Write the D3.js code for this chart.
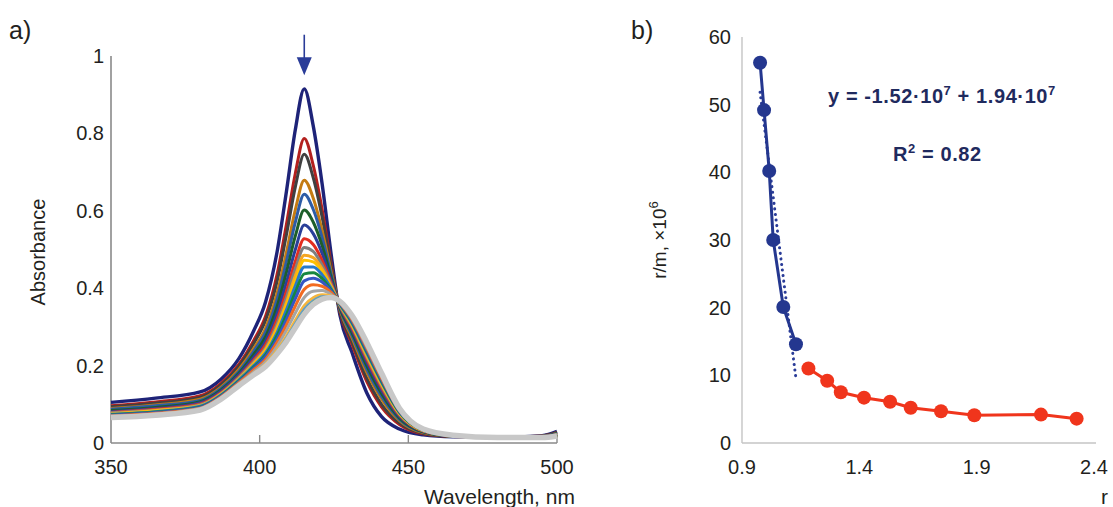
<!DOCTYPE html>
<html>
<head>
<meta charset="utf-8">
<script src="https://cdn.jsdelivr.net/npm/d3@7"></script>
<style>
  html, body { margin: 0; padding: 0; background: #fff; }
  svg { display: block; }
  text { font-family: "Liberation Sans", Arial, sans-serif; fill: #231f20; }
</style>
</head>
<body>
<svg id="fig" width="1113" height="507"></svg>
<script>
// ---- Panel a: absorption spectra during titration ----
const wavelengths = [350, 365, 380, 387, 393, 398, 402, 406, 409, 412, 415, 418, 421, 424, 427, 431, 436, 441, 447, 455, 465, 480, 495, 500];

const abs01 = [0.105,0.116,0.132,0.165,0.218,0.290,0.365,0.500,0.650,0.810,0.915,0.820,0.670,0.490,0.330,0.235,0.130,0.068,0.036,0.021,0.016,0.015,0.019,0.030];
const abs02 = [0.096,0.106,0.122,0.154,0.203,0.265,0.328,0.441,0.565,0.697,0.787,0.718,0.604,0.465,0.338,0.256,0.159,0.093,0.048,0.024,0.017,0.015,0.018,0.027];
const abs03 = [0.094,0.103,0.118,0.150,0.198,0.257,0.317,0.422,0.538,0.662,0.746,0.686,0.584,0.457,0.340,0.263,0.168,0.100,0.052,0.025,0.017,0.015,0.018,0.027];
const abs04 = [0.089,0.098,0.113,0.144,0.190,0.244,0.297,0.391,0.493,0.603,0.679,0.633,0.549,0.444,0.345,0.273,0.183,0.113,0.058,0.027,0.018,0.015,0.017,0.025];
const abs05 = [0.087,0.096,0.110,0.141,0.185,0.237,0.287,0.375,0.469,0.571,0.643,0.604,0.531,0.437,0.347,0.279,0.191,0.120,0.061,0.028,0.018,0.015,0.017,0.024];
const abs06 = [0.084,0.092,0.107,0.137,0.180,0.229,0.275,0.356,0.441,0.535,0.602,0.571,0.510,0.429,0.349,0.286,0.200,0.128,0.065,0.029,0.018,0.015,0.016,0.024];
const abs07 = [0.081,0.089,0.104,0.134,0.176,0.221,0.264,0.338,0.415,0.500,0.563,0.541,0.490,0.421,0.352,0.293,0.209,0.136,0.069,0.030,0.018,0.014,0.016,0.023];
const abs08 = [0.079,0.087,0.101,0.130,0.171,0.214,0.254,0.322,0.392,0.470,0.528,0.513,0.472,0.414,0.354,0.298,0.217,0.143,0.072,0.031,0.019,0.014,0.016,0.022];
const abs09 = [0.078,0.085,0.099,0.128,0.169,0.210,0.247,0.311,0.377,0.450,0.505,0.495,0.460,0.410,0.355,0.302,0.222,0.147,0.074,0.032,0.019,0.014,0.016,0.022];
const abs10 = [0.076,0.084,0.097,0.127,0.166,0.206,0.242,0.302,0.363,0.432,0.485,0.479,0.450,0.406,0.357,0.305,0.226,0.151,0.076,0.032,0.019,0.014,0.015,0.021];
const abs11 = [0.075,0.083,0.096,0.125,0.165,0.203,0.238,0.296,0.355,0.420,0.472,0.468,0.443,0.403,0.357,0.307,0.229,0.153,0.077,0.032,0.019,0.014,0.015,0.021];
const abs12 = [0.074,0.081,0.095,0.124,0.163,0.200,0.233,0.288,0.344,0.406,0.455,0.455,0.435,0.400,0.358,0.310,0.233,0.157,0.079,0.033,0.019,0.014,0.015,0.021];
const abs13 = [0.073,0.080,0.093,0.122,0.160,0.196,0.228,0.280,0.331,0.389,0.437,0.440,0.425,0.396,0.360,0.313,0.237,0.160,0.080,0.033,0.019,0.014,0.015,0.020];
const abs14 = [0.072,0.079,0.092,0.121,0.158,0.193,0.223,0.271,0.319,0.373,0.419,0.426,0.416,0.393,0.361,0.316,0.241,0.164,0.082,0.034,0.019,0.014,0.015,0.020];
const abs15 = [0.070,0.077,0.090,0.119,0.156,0.189,0.216,0.262,0.305,0.354,0.397,0.409,0.405,0.389,0.362,0.320,0.246,0.168,0.084,0.034,0.020,0.014,0.015,0.019];
const abs16 = [0.069,0.075,0.089,0.117,0.153,0.184,0.210,0.252,0.291,0.336,0.376,0.392,0.394,0.384,0.363,0.323,0.250,0.172,0.086,0.035,0.020,0.014,0.014,0.019];
const abs17 = [0.067,0.074,0.087,0.115,0.151,0.180,0.204,0.242,0.276,0.317,0.355,0.375,0.383,0.380,0.365,0.327,0.255,0.176,0.088,0.035,0.020,0.014,0.014,0.018];
const abs18 = [0.067,0.073,0.086,0.114,0.149,0.178,0.201,0.237,0.270,0.308,0.345,0.367,0.378,0.378,0.365,0.328,0.257,0.178,0.089,0.036,0.020,0.014,0.014,0.018];
const abs19 = [0.066,0.072,0.085,0.114,0.149,0.177,0.200,0.235,0.266,0.303,0.339,0.363,0.375,0.377,0.366,0.329,0.259,0.179,0.089,0.036,0.020,0.014,0.014,0.018];
const abs20 = [0.066,0.072,0.085,0.113,0.148,0.176,0.198,0.232,0.262,0.298,0.333,0.358,0.372,0.376,0.366,0.330,0.260,0.180,0.090,0.036,0.020,0.014,0.014,0.018];

const spectra = [abs01, abs02, abs03, abs04, abs05, abs06, abs07, abs08, abs09, abs10,
                 abs11, abs12, abs13, abs14, abs15, abs16, abs17, abs18, abs19, abs20];
const spectrumColors = ["#1e2378", "#b3201e", "#404040", "#c47b12", "#2d5ca6", "#1d5e2a", "#2a3f99",
                        "#e32d1f", "#7f7f7f", "#f5a623", "#ffc000", "#2879c9", "#17873f", "#3556c4",
                        "#f26b21", "#a5a5a5", "#f4b63f", "#5b9bd5", "#70ad47", "#c8c8c8"];

const absTicks = [0, 0.2, 0.4, 0.6, 0.8, 1];
const absTickLabels = ["0", "0.2", "0.4", "0.6", "0.8", "1"];
const wlTicks = [350, 400, 450, 500];
const arrowWavelength = 415;

// ---- Panel b: Scatchard plot ----
const rBlue = [0.977, 0.994, 1.016, 1.033, 1.076, 1.130];
const rmBlue = [56.2, 49.2, 40.2, 30.0, 20.1, 14.6];
const rRed = [1.183, 1.263, 1.321, 1.420, 1.531, 1.619, 1.748, 1.890, 2.174, 2.326];
const rmRed = [11.0, 9.2, 7.5, 6.7, 6.1, 5.2, 4.7, 4.1, 4.2, 3.6];
const rTicks = [0.9, 1.4, 1.9, 2.4];
const rmTicks = [0, 10, 20, 30, 40, 50, 60];

const svg = d3.select("#fig");
const labelSize = 20;

// ================= Panel a =================
const xA = d3.scaleLinear().domain([350, 500]).range([111, 557]);
const yA = d3.scaleLinear().domain([0, 1]).range([443, 56]);
const gA = svg.append("g");

gA.append("text").attr("x", 9).attr("y", 39).attr("font-size", 25).text("a)");

// axes
gA.append("line").attr("x1", xA(350)).attr("x2", xA(350)).attr("y1", yA(1)).attr("y2", yA(0))
  .attr("stroke", "#8a8a8a").attr("stroke-width", 1.6);
gA.append("line").attr("x1", xA(350)).attr("x2", xA(500)).attr("y1", yA(0)).attr("y2", yA(0))
  .attr("stroke", "#8a8a8a").attr("stroke-width", 1.6);
gA.selectAll(".xt").data(wlTicks.slice(1)).enter().append("line")
  .attr("x1", d => xA(d)).attr("x2", d => xA(d)).attr("y1", yA(0)).attr("y2", yA(0) - 8)
  .attr("stroke", "#8a8a8a").attr("stroke-width", 1.4);

gA.selectAll(".yl").data(absTicks).enter().append("text")
  .attr("x", 104).attr("y", d => yA(d)).attr("dy", "0.35em")
  .attr("text-anchor", "end").attr("font-size", labelSize).text((d, i) => absTickLabels[i]);
gA.selectAll(".xl").data(wlTicks).enter().append("text")
  .attr("x", d => xA(d)).attr("y", 474)
  .attr("text-anchor", "middle").attr("font-size", labelSize).text(d => d);

gA.append("text").attr("transform", "translate(45,252) rotate(-90)")
  .attr("text-anchor", "middle").attr("font-size", 20).text("Absorbance");
gA.append("text").attr("x", 424).attr("y", 504).attr("font-size", 21).text("Wavelength, nm");

// spectra
const specLine = d3.line()
  .x((d, i) => xA(wavelengths[i]))
  .y(d => yA(d))
  .curve(d3.curveMonotoneX);

gA.selectAll(".spec").data(spectra).enter().append("path")
  .attr("d", d => specLine(d))
  .attr("fill", "none")
  .attr("stroke", (d, i) => spectrumColors[i])
  .attr("stroke-width", (d, i) => i === spectra.length - 1 ? 5.5 : (i === 0 ? 3.4 : 3))
  .attr("stroke-linejoin", "round");

// arrow marking the decreasing Soret band
const ax = xA(arrowWavelength);
gA.append("line").attr("x1", ax).attr("x2", ax).attr("y1", yA(1.055)).attr("y2", yA(0.99))
  .attr("stroke", "#2a3c98").attr("stroke-width", 1.6);
gA.append("path")
  .attr("d", `M${ax - 7.5},${yA(0.997)} L${ax + 7.5},${yA(0.997)} L${ax},${yA(0.95)} Z`)
  .attr("fill", "#2a3c98");

// ================= Panel b =================
const xB = d3.scaleLinear().domain([0.9, 2.4]).range([742, 1094]);
const yB = d3.scaleLinear().domain([0, 60]).range([443, 37]);
const gB = svg.append("g");

gB.append("text").attr("x", 631).attr("y", 39).attr("font-size", 25).text("b)");

gB.append("line").attr("x1", xB(0.9)).attr("x2", xB(0.9)).attr("y1", yB(60)).attr("y2", yB(0))
  .attr("stroke", "#c4c4c4").attr("stroke-width", 1.4);
gB.append("line").attr("x1", xB(0.9)).attr("x2", xB(2.4) + 2).attr("y1", yB(0)).attr("y2", yB(0))
  .attr("stroke", "#c4c4c4").attr("stroke-width", 1.4);

gB.selectAll(".yl").data(rmTicks).enter().append("text")
  .attr("x", 731).attr("y", d => yB(d)).attr("dy", "0.35em")
  .attr("text-anchor", "end").attr("font-size", labelSize).text(d => d);
gB.selectAll(".xl").data(rTicks).enter().append("text")
  .attr("x", d => xB(d)).attr("y", 474)
  .attr("text-anchor", "middle").attr("font-size", labelSize).text(d => d.toFixed(1));

const yTitle = gB.append("text").attr("transform", "translate(666,240) rotate(-90)")
  .attr("text-anchor", "middle").attr("font-size", 19);
yTitle.append("tspan").text("r/m, ×10");
yTitle.append("tspan").attr("dy", -8).attr("font-size", 13).text("6");
gB.append("text").attr("x", 1101).attr("y", 504).attr("font-size", 21).text("r");

// linear trendline through the blue branch (least squares)
const mx = d3.mean(rBlue), my = d3.mean(rmBlue);
const slope = d3.sum(rBlue, (x, i) => (x - mx) * (rmBlue[i] - my)) / d3.sum(rBlue, x => (x - mx) ** 2);
const icpt = my - slope * mx;
const xr = d3.extent(rBlue);
gB.append("line")
  .attr("x1", xB(xr[0])).attr("y1", yB(icpt + slope * xr[0]))
  .attr("x2", xB(xr[1])).attr("y2", yB(icpt + slope * xr[1]))
  .attr("stroke", "#2a3c98").attr("stroke-width", 3)
  .attr("stroke-dasharray", "0.1,5.5").attr("stroke-linecap", "round");

const blueColor = "#24378f";
const redColor = "#f0351c";
const lineB = d3.line().x(d => xB(d[0])).y(d => yB(d[1]));
const bluePts = rBlue.map((x, i) => [x, rmBlue[i]]);
const redPts = rRed.map((x, i) => [x, rmRed[i]]);

gB.append("path").attr("d", lineB(bluePts)).attr("fill", "none")
  .attr("stroke", blueColor).attr("stroke-width", 3);
gB.selectAll(".bp").data(bluePts).enter().append("circle")
  .attr("cx", d => xB(d[0])).attr("cy", d => yB(d[1])).attr("r", 7).attr("fill", blueColor);

gB.append("path").attr("d", lineB(redPts)).attr("fill", "none")
  .attr("stroke", redColor).attr("stroke-width", 3);
gB.selectAll(".rp").data(redPts).enter().append("circle")
  .attr("cx", d => xB(d[0])).attr("cy", d => yB(d[1])).attr("r", 7).attr("fill", redColor);

// fit annotation
const eq = gB.append("text").attr("x", 828).attr("y", 103)
  .attr("font-family", "Lato, sans-serif").attr("font-size", 20).attr("font-weight", 600)
  .attr("letter-spacing", 0.6).style("fill", "#1f2a5e");
eq.append("tspan").text("y = -1.52·10");
eq.append("tspan").attr("dy", -8).attr("font-size", 13).text("7");
eq.append("tspan").attr("dy", 8).text(" + 1.94·10");
eq.append("tspan").attr("dy", -8).attr("font-size", 13).text("7");

const r2 = gB.append("text").attr("x", 893).attr("y", 161)
  .attr("font-family", "Lato, sans-serif").attr("font-size", 20).attr("font-weight", 600)
  .attr("letter-spacing", 0.6).style("fill", "#1f2a5e");
r2.append("tspan").text("R");
r2.append("tspan").attr("dy", -8).attr("font-size", 13).text("2");
r2.append("tspan").attr("dy", 8).text(" = 0.82");
</script>
</body>
</html>
